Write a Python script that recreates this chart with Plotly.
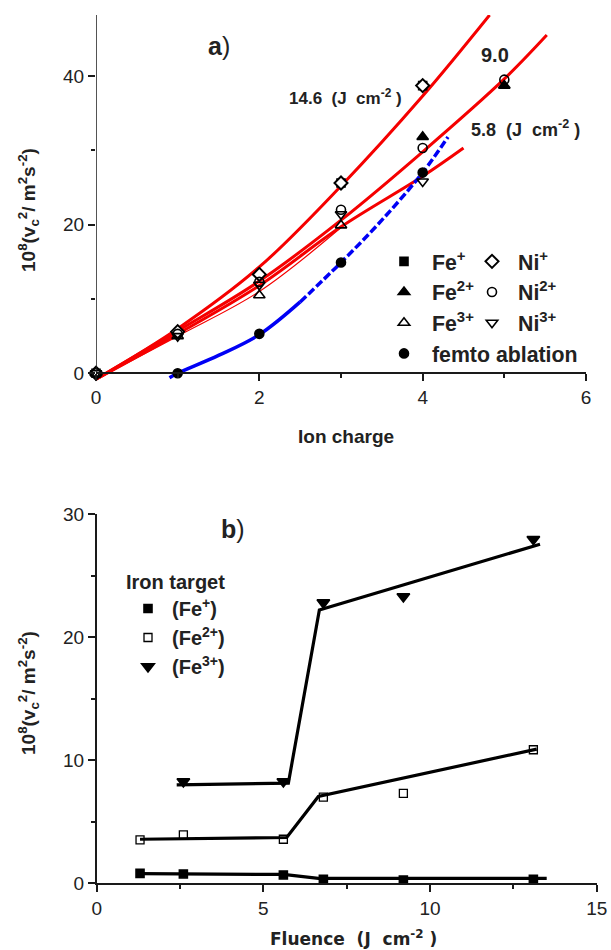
import plotly.graph_objects as go

# ---------------- Panel a) data ----------------
charge_fe1 = [0, 3, 4]
fe1 = [0, 25.6, 38.7]
charge_fe2 = [0, 4, 5]
fe2 = [0, 31.8, 38.7]
charge_fe3 = [0, 1, 2, 3]
fe3 = [0, 5.0, 10.5, 19.9]
charge_ni1 = [0, 1, 2, 3, 4]
ni1 = [0, 5.6, 13.3, 25.6, 38.7]
charge_ni2 = [0, 1, 2, 3, 4, 5]
ni2 = [0, 5.3, 12.3, 22.0, 30.3, 39.5]
charge_ni3 = [0, 1, 2, 3, 4]
ni3 = [0, 5.0, 11.9, 21.4, 25.8]
charge_femto = [1, 2, 3, 4]
femto = [0, 5.3, 14.9, 27.0]

# fitted curves
fit146_x = [0, 1, 2, 3, 4, 4.82]
fit146_y = [-0.8, 6.0, 14.3, 25.2, 37.3, 48.2]
fit90_x = [0, 1, 2, 3, 4, 5, 5.52]
fit90_y = [-0.8, 5.7, 12.4, 20.6, 29.8, 39.6, 45.5]
fit58_x = [0, 1, 2, 3, 4, 4.5]
fit58_y = [-0.8, 5.3, 11.8, 19.7, 26.5, 30.3]
fitthin_x = [0, 1, 2, 3]
fitthin_y = [-0.8, 5.0, 11.0, 19.6]
femto_fit_x = [0.9, 1.0, 1.5, 2.0, 2.5]
femto_fit_y = [-0.6, 0.0, 2.4, 5.2, 9.6]
femto_ext_x = [2.5, 3.0, 3.5, 4.0, 4.31]
femto_ext_y = [9.6, 14.9, 20.6, 27.0, 31.8]

# ---------------- Panel b) data ----------------
flu = [1.3, 2.6, 5.6, 6.8, 9.2, 13.1]
b_fe1 = [0.81, 0.76, 0.68, 0.33, 0.27, 0.33]
b_fe2 = [3.53, 3.93, 3.58, 7.0, 7.3, 10.85]
flu3 = [2.6, 5.6, 6.8, 9.2, 13.1]
b_fe3 = [8.27, 8.27, 22.8, 23.3, 27.95]

line1_x = [1.3, 5.6, 6.65, 13.5]
line1_y = [0.78, 0.72, 0.4, 0.4]
line2_x = [1.3, 5.7, 6.65, 13.2]
line2_y = [3.58, 3.72, 7.05, 10.9]
line3_x = [2.4, 5.75, 6.68, 13.3]
line3_y = [8.0, 8.14, 22.2, 27.55]

FONT = "Liberation Sans, Arial, sans-serif"
RED = "rgb(245,0,0)"
BLUE = "rgb(0,0,245)"
AX = "#1a1a1a"
INK = "#222"

W, H = 611, 950

fig = go.Figure()

for xs, ys, w in [(fit146_x, fit146_y, 3), (fit90_x, fit90_y, 3), (fit58_x, fit58_y, 3), (fitthin_x, fitthin_y, 1.2)]:
    fig.add_trace(go.Scatter(x=xs, y=ys, mode="lines", line=dict(color=RED, width=w, shape="spline"),
                             showlegend=False, hoverinfo="skip", xaxis="x", yaxis="y"))
fig.add_trace(go.Scatter(x=femto_fit_x, y=femto_fit_y, mode="lines", line=dict(color=BLUE, width=3.5, shape="spline"),
                         showlegend=False, hoverinfo="skip", xaxis="x", yaxis="y"))
fig.add_trace(go.Scatter(x=femto_ext_x, y=femto_ext_y, mode="lines",
                         line=dict(color=BLUE, width=3.5, shape="spline", dash="8px,3px"),
                         showlegend=False, hoverinfo="skip", xaxis="x", yaxis="y"))

def mk(x, y, name, sym, size, legend, xa="x", ya="y", fill="black", lw=1.6):
    fig.add_trace(go.Scatter(x=x, y=y, mode="markers", name=name, legend=legend,
                             marker=dict(symbol=sym, size=size, color=fill,
                                         line=dict(color="black", width=lw)),
                             cliponaxis=False, xaxis=xa, yaxis=ya))

mk(charge_fe1, fe1, "<b>Fe<sup>+</sup></b>", "square", 8, "legend")
mk(charge_fe2, fe2, "<b>Fe<sup>2+</sup></b>", "triangle-up", 10, "legend")
mk(charge_fe3, fe3, "<b>Fe<sup>3+</sup></b>", "triangle-up-open", 10, "legend")
mk(charge_femto, femto, "<b>femto ablation</b>", "circle", 9, "legend")
mk(charge_ni1, ni1, "<b>Ni<sup>+</sup></b>", "diamond", 10, "legend2", fill="white", lw=2)
mk(charge_ni2, ni2, "<b>Ni<sup>2+</sup></b>", "circle-open", 9, "legend2")
mk(charge_ni3, ni3, "<b>Ni<sup>3+</sup></b>", "triangle-down-open", 10, "legend2")

for xs, ys in [(line1_x, line1_y), (line2_x, line2_y), (line3_x, line3_y)]:
    fig.add_trace(go.Scatter(x=xs, y=ys, mode="lines", line=dict(color="black", width=3.2),
                             showlegend=False, hoverinfo="skip", xaxis="x2", yaxis="y2"))
mk(flu, b_fe1, "<b>(Fe<sup>+</sup>)</b>", "square", 8, "legend3", "x2", "y2")
mk(flu, b_fe2, "<b>(Fe<sup>2+</sup>)</b>", "square-open", 8, "legend3", "x2", "y2", lw=1.3)
mk(flu3, b_fe3, "<b>(Fe<sup>3+</sup>)</b>", "triangle-down", 11, "legend3", "x2", "y2")

def py(p):
    return (H - p) / H

def px(p):
    return p / W

tickfont = dict(family=FONT, size=19, color=INK)
axis_common = dict(showgrid=False, zeroline=False, linecolor=AX, linewidth=1.5,
                   ticks="outside", tickcolor=AX, tickwidth=1.5, ticklen=7,
                   tickfont=tickfont, fixedrange=True, automargin=False)
legfont = dict(family=FONT, size=21.3, color=INK)

fig.update_layout(
    width=W, height=H, margin=dict(l=0, r=0, t=0, b=0, pad=0, autoexpand=False),
    paper_bgcolor="white", plot_bgcolor="white",
    font=dict(family=FONT, color=INK),
    xaxis=dict(domain=[px(96), px(586)], range=[0, 6], tickvals=[0, 2, 4, 6],
               anchor="free", position=py(373.3), showline=True,
               minor=dict(tickvals=[1, 3, 5], ticks="outside", ticklen=4, tickwidth=1.5, tickcolor=AX),
               **axis_common),
    yaxis=dict(domain=[py(380.7), py(15)], range=[-1.0, 48.2], tickvals=[0, 20, 40],
               anchor="x", showline=False,
               minor=dict(tickvals=[10, 30], ticks="outside", ticklen=4, tickwidth=1.5, tickcolor=AX),
               **axis_common),
    xaxis2=dict(domain=[px(96.7), px(596.7)], range=[0, 15], tickvals=[0, 5, 10, 15],
                anchor="y2", showline=True,
                minor=dict(tickvals=[2.5, 7.5, 12.5], ticks="outside", ticklen=4, tickwidth=1.5, tickcolor=AX),
                **axis_common),
    yaxis2=dict(domain=[py(883.3), py(514)], range=[0, 30], tickvals=[0, 10, 20, 30],
                anchor="x2", showline=True,
                minor=dict(tickvals=[5, 15, 25], ticks="outside", ticklen=4, tickwidth=1.5, tickcolor=AX),
                **axis_common),
    legend=dict(x=px(376), y=py(241), xanchor="left", yanchor="top", bgcolor="rgba(0,0,0,0)",
                font=legfont, itemwidth=46, tracegroupgap=0),
    legend2=dict(x=px(466), y=py(241), xanchor="left", yanchor="top", bgcolor="rgba(0,0,0,0)",
                 font=legfont, itemwidth=42, tracegroupgap=0),
    legend3=dict(x=px(124), y=py(563), xanchor="left", yanchor="top", bgcolor="rgba(0,0,0,0)",
                 font=dict(family=FONT, size=20, color=INK), itemwidth=38, tracegroupgap=0,
                 title=dict(text="<b>Iron target</b>", font=dict(family=FONT, size=20, color=INK))),
    shapes=[dict(type="line", xref="x", yref="y", x0=0, x1=0, y0=0, y1=48.2,
                 line=dict(color=AX, width=1.5), layer="above")],
)

ylab = "<b>10<sup>8</sup>(v<sub>c</sub><sup>2</sup>/ m<sup>2</sup>s<sup>-2</sup>)</b>"
ann = [
    dict(text=ylab, x=px(28), y=py(210), textangle=-90, font=dict(size=19)),
    dict(text=ylab, x=px(28), y=py(693), textangle=-90, font=dict(size=19)),
    dict(text="<b>Ion charge</b>", x=px(346), y=py(437), font=dict(size=19)),
    dict(text="<b>Fluence  (J  cm<sup>-2</sup> )</b>", x=px(353), y=py(938),
         font=dict(size=17, family="DejaVu Sans, sans-serif")),
    dict(text="<b>a</b>)", x=px(219), y=py(46), font=dict(size=25)),
    dict(text="<b>b</b>)", x=px(233), y=py(529), font=dict(size=25)),
    dict(text="<b>14.6  (J  cm<sup>-2</sup> )</b>", x=px(287), y=py(97), xanchor="left", font=dict(size=17)),
    dict(text="<b>9.0</b>", x=px(479), y=py(55), xanchor="left", font=dict(size=20)),
    dict(text="<b>5.8  (J  cm<sup>-2</sup> )</b>", x=px(469), y=py(128), xanchor="left", font=dict(size=18)),
]
for a in ann:
    a.setdefault("xanchor", "center")
    a.update(xref="paper", yref="paper", showarrow=False, yanchor="middle")
    f = dict(family=FONT, color=INK)
    f.update(a["font"])
    a["font"] = f
fig.update_layout(annotations=ann)

fig.write_html("out.html", config={"displayModeBar": False},
               post_script="document.body.style.margin='0';")
